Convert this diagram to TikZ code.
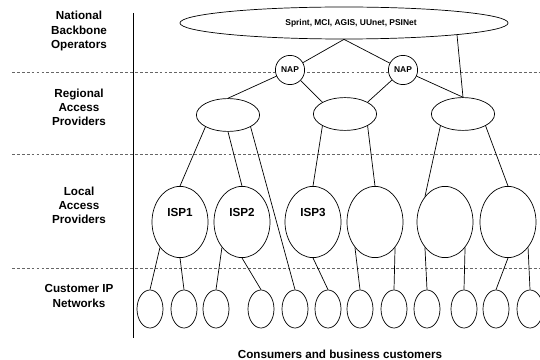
\documentclass[tikz,border=0pt]{standalone}
\usepackage{fontspec}
\setmainfont{Liberation Sans}
\usepackage{tikz}
\usetikzlibrary{shapes.geometric}

\begin{document}
\begin{tikzpicture}[x=0.025cm,y=-0.025cm,line width=0.5pt,
    every node/.style={font=\bfseries\fontsize{8.3}{10}\selectfont},
    tier/.style={align=center},
    bbone/.style={ellipse,draw,fill=white,minimum width=8.2cm,minimum height=0.8cm,font=\bfseries\fontsize{6}{7}\selectfont},
    nap/.style={circle,draw,fill=white,minimum size=0.73cm,inner sep=0pt,font=\bfseries\fontsize{6}{7}\selectfont},
    regional/.style={ellipse,draw,fill=white,minimum width=1.58cm,minimum height=0.82cm},
    isp/.style={ellipse,draw,fill=white,minimum width=1.4cm,minimum height=1.78cm,text depth=14pt},
    cust/.style={ellipse,draw,fill=white,minimum width=0.65cm,minimum height=0.95cm},
    sep/.style={dash pattern=on 2pt off 1.5pt,black!60}]
    \useasboundingbox (0,0) rectangle (540,360);

    % tier separators
    \draw[sep] (12,72) -- (540,72);
    \draw[sep] (12,154) -- (540,154);
    \draw[sep] (12,268) -- (540,268);
    \draw (133,13) -- (133,338);

    \node[tier] (t1) at (79,31)  {National\\Backbone\\Operators};
    \node[tier] (t2) at (79,107) {Regional\\Access\\Providers};
    \node[tier] (t3) at (79,205) {Local\\Access\\Providers};
    \node[tier] (t4) at (79,296) {Customer IP\\Networks};
    \node       (t5) at (340,354) {Consumers and business customers};

    \node[bbone]    (bb)   at (344,23)  {\hspace{10pt}Sprint, MCI, AGIS, UUnet, PSINet};
    \node[nap]      (nap1) at (290,70)  {NAP};
    \node[nap]      (nap2) at (403,70)  {NAP};
    \node[regional] (r1)   at (228,115) {};
    \node[regional] (r2)   at (345,114) {};
    \node[regional] (r3)   at (463,114) {};
    \node[isp]      (isp1) at (180,222) {ISP1};
    \node[isp]      (isp2) at (242,222) {ISP2};
    \node[isp]      (isp3) at (313,222) {ISP3};
    \node[isp]      (isp4) at (375,222) {};
    \node[isp]      (isp5) at (445,222) {};
    \node[isp]      (isp6) at (508,222) {};
    \foreach \n/\x in {1/150,2/184,3/216,4/261,5/295,6/328,7/360,8/394,9/427,10/464,11/496,12/530}
      \node[cust] (c\n) at (\x,309) {};

    \path
    (bb.south) edge (nap1)
    (bb.south) edge (nap2)
    (bb.-6) edge (r3.north)
    (nap1) edge (r1.north)
    (nap1) edge (r2.north west)
    (nap2) edge (r2.north east)
    (nap2) edge (r3.north)
    (r1.south west) edge (isp1.north)
    (r1.south) edge (isp2.north)
    (r1.south east) edge (c5.north)
    (r2.south west) edge (isp3.north)
    (r2.south east) edge (isp4.north)
    (r3.south west) edge (isp5.north west)
    (r3.south east) edge (isp6.north)
    (isp1.south west) edge (c1.north)
    (isp1.south) edge (c2.north)
    (isp2.south west) edge (c3.north)
    (isp2.south) edge (c4.north)
    (isp3.south) edge (c6.north)
    (isp4.south west) edge (c7.north)
    (isp4.south east) edge (c8.north)
    (isp5.south west) edge (c9.north)
    (isp5.south east) edge (c10.north)
    (isp6.south) edge (c11.north)
    (isp6.south east) edge (c12.north);
\end{tikzpicture}
\end{document}
